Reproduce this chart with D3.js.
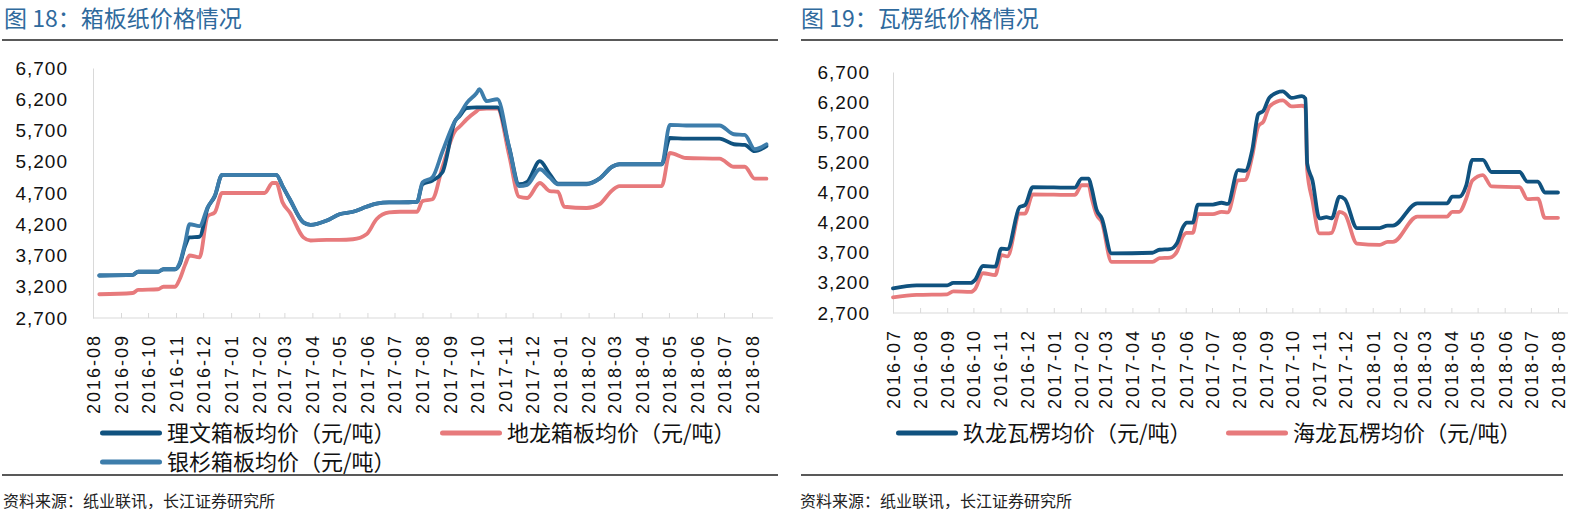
<!DOCTYPE html>
<html>
<head>
<meta charset="utf-8">
<title>箱板纸、瓦楞纸价格情况</title>
<script src="https://cdn.jsdelivr.net/npm/d3@7/dist/d3.min.js"></script>
<style>
body { margin: 0; background: #fff; }
text { font-family: "Liberation Sans", Arial, "Noto Sans CJK SC", sans-serif; }
.cn { font-family: "Noto Sans CJK SC", "Liberation Sans", sans-serif; }
</style>
</head>
<body>
<svg width="1585" height="517" id="mainsvg"></svg>
<script>
// 纵轴刻度
const yTicks = [2700, 3200, 3700, 4200, 4700, 5200, 5700, 6200, 6700];

// 图18 箱板纸
const boardDates = ['2016-08-08','2016-09-14','2016-09-20','2016-10-12','2016-10-18','2016-10-31','2016-11-05','2016-11-11',
  '2016-11-16','2016-11-27','2016-12-06','2016-12-14','2016-12-22','2017-02-07','2017-02-16','2017-02-20','2017-02-27',
  '2017-03-07','2017-03-22','2017-03-30','2017-04-17','2017-05-01','2017-05-16','2017-05-31','2017-06-11','2017-06-25',
  '2017-07-07','2017-07-26','2017-08-01','2017-08-12','2017-08-23','2017-09-06','2017-09-11','2017-09-19','2017-09-30',
  '2017-10-03','2017-10-11','2017-10-23','2017-11-05','2017-11-16','2017-11-25','2017-12-09','2017-12-20','2017-12-29',
  '2018-01-05','2018-01-30','2018-02-13','2018-02-27','2018-03-07','2018-04-23','2018-05-02','2018-05-20','2018-06-26',
  '2018-07-12','2018-07-24','2018-08-04','2018-08-17'];
const liwen = [3380,3390,3440,3440,3480,3480,3560,3850,3990,4000,4460,4650,4990,4990,4990,4990,4810,4600,4230,4190,
  4260,4360,4400,4480,4530,4550,4550,4560,4840,4900,5030,5850,5930,6060,6070,6070,6070,6070,5430,4840,4880,5210,
  5000,4850,4850,4850,4930,5120,5160,5160,5580,5570,5570,5480,5470,5370,5450];
const yinshan = [3380,3390,3440,3440,3480,3480,3580,3900,4200,4170,4470,4660,4990,4990,4990,4990,4810,4600,4230,4190,
  4260,4360,4400,4480,4530,4550,4550,4560,4870,4950,5360,5850,5950,6140,6300,6360,6170,6200,5430,4810,4830,5080,
  4950,4840,4840,4840,4930,5120,5160,5160,5790,5780,5780,5640,5630,5400,5480];
const dilong = [3080,3100,3150,3160,3200,3200,3320,3550,3700,3670,4330,4390,4700,4700,4860,4860,4550,4390,3990,3940,
  3950,3950,3960,4040,4280,4390,4400,4400,4570,4600,5110,5690,5760,5880,6010,6040,6050,6050,5300,4640,4620,4860,
  4730,4720,4480,4460,4520,4740,4810,4810,5340,5260,5250,5120,5120,4930,4930];

// 图19 瓦楞纸
const fluteDates = ['2016-07-01','2016-07-28','2016-09-01','2016-09-08','2016-09-28','2016-10-03','2016-10-12','2016-10-26',
  '2016-11-02','2016-11-09','2016-11-23','2016-11-29','2016-12-08','2017-01-25','2017-02-02','2017-02-10','2017-02-13',
  '2017-02-19','2017-02-25','2017-03-08','2017-04-24','2017-05-02','2017-05-14','2017-05-22','2017-05-29','2017-06-02',
  '2017-06-09','2017-06-15','2017-07-02','2017-07-12','2017-07-19','2017-07-31','2017-08-08','2017-08-16','2017-08-23',
  '2017-08-29','2017-09-05','2017-09-20','2017-09-30','2017-10-12','2017-10-16','2017-10-18','2017-10-24','2017-11-01',
  '2017-11-09','2017-11-15','2017-11-24','2017-11-30','2017-12-14','2018-01-09','2018-01-18','2018-01-24','2018-02-21',
  '2018-03-27','2018-04-02','2018-04-10','2018-04-18','2018-04-25','2018-05-07','2018-05-17','2018-06-18','2018-06-27',
  '2018-07-09','2018-07-17','2018-08-01'];
const jiulong = [3110,3160,3160,3200,3200,3250,3480,3470,3770,3760,4460,4490,4790,4780,4930,4930,4790,4410,4270,3690,
  3700,3750,3760,3860,4130,4200,4200,4500,4500,4530,4510,5070,5060,5400,6000,6060,6280,6380,6270,6300,6260,5180,
  4900,4270,4290,4270,4630,4590,4110,4110,4150,4150,4520,4520,4630,4630,4820,5240,5240,5040,5040,4880,4880,4700,4700];
const hailong = [2960,3000,3010,3060,3050,3100,3360,3330,3660,3640,4350,4350,4670,4660,4820,4820,4630,4330,4210,3550,
  3550,3610,3620,3720,3980,4030,4030,4340,4340,4380,4370,4900,4910,5300,5800,5880,6130,6230,6130,6140,6110,5070,
  4570,4020,4020,4030,4380,4340,3850,3830,3880,3880,4300,4300,4380,4380,4600,4900,4990,4800,4790,4590,4600,4280,4280];

const DARK = '#10527f', MID = '#3d7dab', RED = '#e77a7c';

const svg = d3.select('#mainsvg');
const parse = d3.timeParse('%Y-%m-%d');

const panels = [
  {
    title: '图 18：箱板纸价格情况', titleX: 4, ruleX0: 2, ruleX1: 778, srcX: 3,
    start: '2016-08-01', end: '2018-08-01', left: 93, right: 752, axisEnd: 773,
    top: 68, bottom: 318, yPad: 25, dates: boardDates,
    series: [
      { name: '地龙箱板均价（元/吨）', values: dilong, color: RED, lx: 440, ly: 433 },
      { name: '理文箱板均价（元/吨）', values: liwen, color: DARK, lx: 100, ly: 433 },
      { name: '银杉箱板均价（元/吨）', values: yinshan, color: MID, lx: 100, ly: 462 }
    ]
  },
  {
    title: '图 19：瓦楞纸价格情况', titleX: 801, ruleX0: 801, ruleX1: 1563, srcX: 800,
    start: '2016-07-01', end: '2018-08-01', left: 893, right: 1558, axisEnd: 1568,
    top: 72, bottom: 313, yPad: 23, dates: fluteDates,
    series: [
      { name: '海龙瓦楞均价（元/吨）', values: hailong, color: RED, lx: 1226, ly: 433 },
      { name: '玖龙瓦楞均价（元/吨）', values: jiulong, color: DARK, lx: 896, ly: 433 }
    ]
  }
];

panels.forEach(p => {
  const g = svg.append('g');

  // 标题和横线
  g.append('text').attr('class', 'cn').attr('x', p.titleX).attr('y', 27)
    .attr('font-size', 23).attr('fill', '#2f6a9d').text(p.title);
  g.append('line').attr('x1', p.ruleX0).attr('x2', p.ruleX1).attr('y1', 40).attr('y2', 40)
    .attr('stroke', '#222').attr('stroke-width', 1.5);

  const x = d3.scaleTime().domain([parse(p.start), parse(p.end)]).range([p.left, p.right]);
  const y = d3.scaleLinear().domain([2700, 6700]).range([p.bottom, p.top]);

  // y轴
  const ya = g.append('g').attr('transform', `translate(${p.left},0)`)
    .call(d3.axisLeft(y).tickValues(yTicks).tickFormat(d3.format(',')).tickSize(0).tickPadding(p.yPad));
  ya.select('.domain').attr('stroke', '#d9d9d9');
  ya.selectAll('text').attr('font-size', 19).attr('letter-spacing', 1).attr('fill', '#111');

  // x轴, 每月一个刻度
  const months = d3.timeMonth.range(parse(p.start), d3.timeDay.offset(parse(p.end), 1));
  const xa = g.append('g').attr('transform', `translate(0,${p.bottom})`)
    .call(d3.axisBottom(x).tickValues(months).tickFormat(d3.timeFormat('%Y-%m'))
      .tickSizeInner(-5).tickSizeOuter(0).tickPadding(0));
  xa.select('.domain').attr('d', `M${p.left},0H${p.axisEnd}`).attr('stroke', '#d9d9d9');
  xa.selectAll('.tick line').attr('stroke', '#d9d9d9');
  xa.selectAll('text')
    .attr('transform', 'rotate(-90)').attr('text-anchor', 'end')
    .attr('x', -16).attr('y', 0).attr('dy', '0.35em')
    .attr('font-size', 18).attr('letter-spacing', 2).attr('fill', '#111');

  // 折线
  const line = d3.line().x(d => x(d.date)).y(d => y(d.value)).curve(d3.curveMonotoneX);
  p.series.forEach(s => {
    const pts = p.dates.map((dt, i) => ({ date: parse(dt), value: s.values[i] }));
    g.append('path').datum(pts).attr('d', line)
      .attr('fill', 'none').attr('stroke', s.color).attr('stroke-width', 3.8)
      .attr('stroke-linejoin', 'round').attr('stroke-linecap', 'round');
  });

  // 图例
  p.series.forEach(s => {
    const lg = g.append('g').attr('transform', `translate(${s.lx},${s.ly})`);
    lg.append('line').attr('x1', 2.5).attr('x2', 59.5).attr('stroke', s.color)
      .attr('stroke-width', 5).attr('stroke-linecap', 'round');
    lg.append('text').attr('class', 'cn').attr('x', 67).attr('dy', '0.35em')
      .attr('font-size', 22).attr('fill', '#111').text(s.name);
  });

  // 底部横线和资料来源
  g.append('line').attr('x1', p.ruleX0).attr('x2', p.ruleX1).attr('y1', 475).attr('y2', 475)
    .attr('stroke', '#222').attr('stroke-width', 1.5);
  g.append('text').attr('class', 'cn').attr('x', p.srcX).attr('y', 507)
    .attr('font-size', 16).attr('fill', '#222').text('资料来源：纸业联讯，长江证券研究所');
});
</script>
</body>
</html>
